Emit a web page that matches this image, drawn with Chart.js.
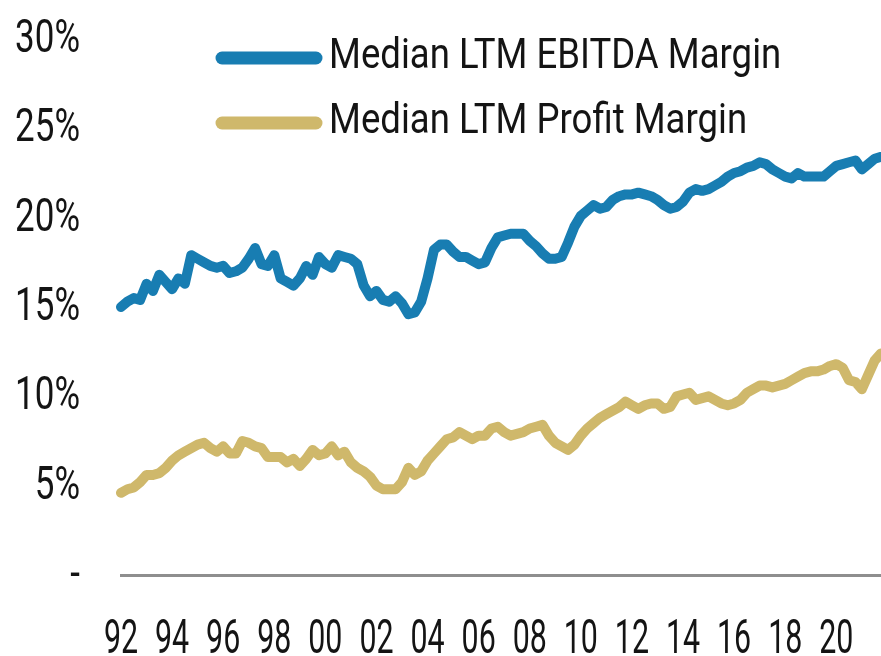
<!DOCTYPE html>
<html>
<head>
<meta charset="utf-8">
<script src="https://cdn.jsdelivr.net/npm/chart.js@4.4.1/dist/chart.umd.min.js"></script>
<style>
  html, body { margin: 0; padding: 0; background: #ffffff; }
  #wrap { width: 881px; height: 656px; position: relative; }
</style>
</head>
<body>
<div id="wrap"><canvas id="c" width="881" height="656"></canvas></div>
<script>
// ---- Data (quarterly, 1992Q1 .. 2021Q4), values in % ----
const seriesNames = ["Median LTM EBITDA Margin", "Median LTM Profit Margin"];
const startYear = 1992;
const endYear = 2021;
const xTickYears = ["92","94","96","98","00","02","04","06","08","10","12","14","16","18","20"];
const yTickValues = [0, 5, 10, 15, 20, 25, 30];

const ebitdaMargin = [
  15.0, 15.3, 15.5, 15.4, 16.3, 15.9, 16.8, 16.4, 16.0, 16.6,
  16.3, 17.9, 17.7, 17.5, 17.3, 17.2, 17.3, 16.9, 17.0, 17.2,
  17.7, 18.3, 17.4, 17.3, 17.9, 16.6, 16.4, 16.2, 16.6, 17.3,
  16.8, 17.8, 17.4, 17.2, 17.9, 17.8, 17.7, 17.4, 16.2, 15.6,
  15.9, 15.4, 15.3, 15.6, 15.2, 14.6, 14.7, 15.3, 16.6, 18.2,
  18.5, 18.5, 18.1, 17.8, 17.8, 17.6, 17.4, 17.5, 18.3, 18.9,
  19.0, 19.1, 19.1, 19.1, 18.7, 18.4, 18.0, 17.7, 17.7, 17.8,
  18.6, 19.5, 20.1, 20.4, 20.7, 20.5, 20.6, 21.0, 21.2, 21.3,
  21.3, 21.4, 21.3, 21.2, 21.0, 20.7, 20.5, 20.6, 20.9, 21.4,
  21.6, 21.5, 21.6, 21.8, 22.0, 22.3, 22.5, 22.6, 22.8, 22.9,
  23.1, 23.0, 22.7, 22.5, 22.3, 22.2, 22.5, 22.3, 22.3, 22.3,
  22.3, 22.6, 22.9, 23.0, 23.1, 23.2, 22.7, 23.0, 23.3, 23.4
];
const profitMargin = [
  4.6, 4.8, 4.9, 5.2, 5.6, 5.6, 5.7, 6.0, 6.4, 6.7,
  6.9, 7.1, 7.3, 7.4, 7.1, 6.9, 7.2, 6.8, 6.8, 7.5,
  7.4, 7.2, 7.1, 6.6, 6.6, 6.6, 6.3, 6.5, 6.1, 6.5,
  7.0, 6.7, 6.8, 7.2, 6.7, 6.9, 6.3, 6.0, 5.8, 5.5,
  5.0, 4.8, 4.8, 4.8, 5.2, 6.0, 5.6, 5.8, 6.4, 6.8,
  7.2, 7.6, 7.7, 8.0, 7.8, 7.6, 7.8, 7.8, 8.2, 8.3,
  8.0, 7.8, 7.9, 8.0, 8.2, 8.3, 8.4, 7.8, 7.4, 7.2,
  7.0, 7.3, 7.8, 8.2, 8.5, 8.8, 9.0, 9.2, 9.4, 9.7,
  9.5, 9.3, 9.5, 9.6, 9.6, 9.3, 9.4, 10.0, 10.1, 10.2,
  9.8, 9.9, 10.0, 9.8, 9.6, 9.5, 9.6, 9.8, 10.2, 10.4,
  10.6, 10.6, 10.5, 10.6, 10.7, 10.9, 11.1, 11.3, 11.4, 11.4,
  11.5, 11.7, 11.8, 11.6, 10.9, 10.8, 10.4, 11.2, 12.0, 12.4
];

// Quarter categories
const quarters = [];
for (let y = startYear; y <= endYear; y++) {
  for (let q = 1; q <= 4; q++) quarters.push(y + "Q" + q);
}

const FONT = 'Roboto, "Liberation Sans", sans-serif';
const BLUE = '#187db2';
const GOLD = '#cfb86b';
const TEXT = '#141414';

// draws horizontally condensed text (real canvas text)
function condensedText(ctx, str, x, y, sx, align) {
  ctx.save();
  ctx.translate(x, y);
  ctx.scale(sx, 1);
  ctx.textAlign = align;
  ctx.textBaseline = 'alphabetic';
  ctx.fillText(str, 0, 0);
  ctx.restore();
}

const textPlugin = {
  id: 'condensedLabels',
  afterDraw(chart) {
    const ctx = chart.ctx;
    const xs = chart.scales.x, ys = chart.scales.y;
    ctx.save();
    ctx.fillStyle = TEXT;
    // y tick labels
    ctx.font = '46px ' + FONT;
    yTickValues.forEach(v => {
      const py = ys.getPixelForValue(v);
      const lab = v === 0 ? '-' : v + '%';
      condensedText(ctx, lab, 80, py + 13, 0.76, 'right');
    });
    // x tick labels
    ctx.font = '49px ' + FONT;
    xTickYears.forEach(yy => {
      const full = (parseInt(yy, 10) > 50 ? '19' : '20') + yy + 'Q1';
      const idx = quarters.indexOf(full);
      if (idx < 0) return;
      const px = xs.getPixelForValue(idx);
      condensedText(ctx, yy, px, 653, 0.62, 'center');
    });
    // legend
    const rows = [58, 123];
    chart.data.datasets.forEach((ds, i) => {
      const y = rows[i];
      ctx.strokeStyle = ds.borderColor;
      ctx.lineWidth = 13;
      ctx.lineCap = 'round';
      ctx.beginPath();
      ctx.moveTo(222, y);
      ctx.lineTo(316, y);
      ctx.stroke();
      ctx.fillStyle = TEXT;
      ctx.font = '43px ' + FONT;
      condensedText(ctx, ds.label, 329, y + 10, 0.85, 'left');
    });
    ctx.restore();
  }
};

new Chart(document.getElementById('c'), {
  type: 'line',
  data: {
    labels: quarters,
    datasets: [
      { label: seriesNames[0], data: ebitdaMargin, borderColor: BLUE, backgroundColor: BLUE },
      { label: seriesNames[1], data: profitMargin, borderColor: GOLD, backgroundColor: GOLD }
    ]
  },
  options: {
    responsive: false,
    animation: false,
    devicePixelRatio: 1,
    layout: { padding: { top: 39, right: 0, left: 0, bottom: 0 } },
    elements: {
      line: { borderWidth: 10, tension: 0, borderJoinStyle: 'round', borderCapStyle: 'round' },
      point: { radius: 0, hoverRadius: 0 }
    },
    plugins: { legend: { display: false }, tooltip: { enabled: false } },
    scales: {
      x: {
        type: 'category',
        offset: false,
        grid: { display: false },
        border: { display: true, color: '#8e8e8e', width: 3 },
        ticks: { display: false },
        afterFit(scale) { scale.height = 81; scale.paddingLeft = 0; scale.paddingRight = 0; }
      },
      y: {
        min: 0,
        max: 30,
        grid: { display: false },
        border: { display: false },
        ticks: { display: false, stepSize: 5 },
        afterFit(scale) { scale.width = 121; scale.paddingTop = 0; scale.paddingBottom = 0; }
      }
    }
  },
  plugins: [textPlugin]
});
</script>
</body>
</html>
